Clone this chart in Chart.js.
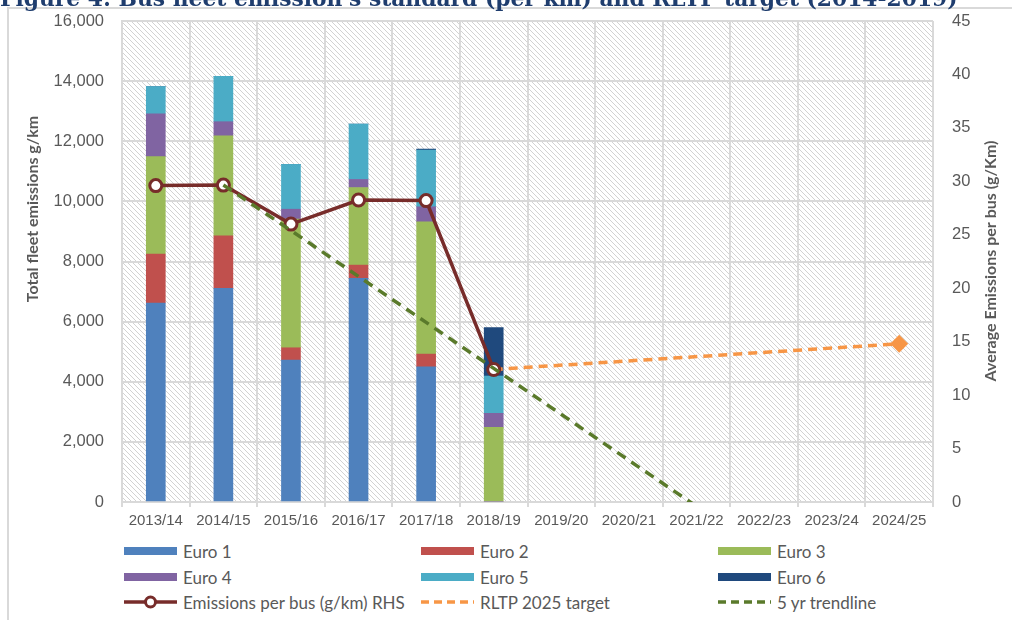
<!DOCTYPE html>
<html lang="en">
<head>
<meta charset="UTF-8">
<title>Bus fleet emissions</title>
<script src="https://cdn.jsdelivr.net/npm/chart.js"></script>
<style>
  body { margin: 0; background: #fff; font-family: Lato, "Liberation Sans", Arial, sans-serif; }
  #wrap { position: relative; width: 1012px; height: 620px; overflow: hidden; }
  #figTitle {
    position: absolute; left: 0; top: -14px; line-height: 22px;
    font: bold 21.8px "DejaVu Serif", serif; color: #1f3d6e; white-space: nowrap; z-index: 3;
  }
  #frame {
    position: absolute; left: 7px; top: 7px; width: 1100px; height: 700px;
    border-left: 2px solid #d9d9d9; border-top: 2px solid #d9d9d9; z-index: 2; pointer-events: none;
  }
  #chartBox { position: absolute; left: 0; top: 0; width: 1012px; height: 540px; }
  .leg { position: absolute; display: flex; align-items: center; font-size: 17px; color: #595959; white-space: nowrap; }
  .leg canvas { margin-right: 6px; }
</style>
</head>
<body>
<div id="wrap">
  <div id="figTitle">Figure 4: Bus fleet emission's standard (per km) and RLTP target (2014-2019)</div>
  <div id="frame"></div>
  <div id="chartBox"><canvas id="busChart" width="1012" height="540"></canvas></div>
  <div id="legend"></div>
</div>

<script>
const categories = ['2013/14', '2014/15', '2015/16', '2016/17', '2017/18', '2018/19',
                    '2019/20', '2020/21', '2021/22', '2022/23', '2023/24', '2024/25'];

// fleet emissions g/km by standard (left axis)
const euro1 = [6620, 7110, 4720, 7440, 4500, 0];
const euro2 = [1630, 1740, 410, 440, 420, 0];
const euro3 = [3240, 3330, 4280, 2580, 4400, 2480];
const euro4 = [1420, 470, 330, 270, 500, 470];
const euro5 = [910, 1510, 1490, 1840, 1890, 1240];
const euro6 = [0, 0, 0, 0, 30, 1610];

// average emissions per bus g/km (right axis)
const perBus = [29.6, 29.65, 26.0, 28.25, 28.2, 12.4];
const rltpTarget = [null, null, null, null, null, 12.4, null, null, null, null, null, 14.8];
const trendline = [null, 29.65, 25.4, 21.1, 16.8, 12.5, 8.2, 3.9, -0.4];

const grey = '#595959';
const gridCol = '#d9d9d9';

// diagonal hatch for plot area
const tile = document.createElement('canvas');
tile.width = 5; tile.height = 5;
const tctx = tile.getContext('2d');
tctx.strokeStyle = '#d2d2d2';
tctx.lineWidth = 1;
tctx.beginPath();
tctx.moveTo(-1, -1); tctx.lineTo(6, 6);
tctx.moveTo(-1, 4); tctx.lineTo(1, 6);
tctx.moveTo(4, -1); tctx.lineTo(6, 1);
tctx.stroke();

const hatchBg = {
  id: 'hatchBg',
  beforeDraw(chart) {
    const { ctx, chartArea: a } = chart;
    ctx.save();
    ctx.fillStyle = '#fff';
    ctx.fillRect(a.left, a.top, a.right - a.left, a.bottom - a.top);
    ctx.fillStyle = ctx.createPattern(tile, 'repeat');
    ctx.fillRect(a.left, a.top, a.right - a.left, a.bottom - a.top);
    ctx.restore();
  }
};

// both axis titles read bottom-to-top, left one sits above centre
function sideTitle(ctx, text, x, y) {
  ctx.save();
  ctx.translate(x, y);
  ctx.rotate(-Math.PI / 2);
  ctx.font = 'bold 16px Lato, Arial, sans-serif';
  ctx.fillStyle = grey;
  ctx.textAlign = 'center';
  ctx.textBaseline = 'middle';
  ctx.fillText(text, 0, 0);
  ctx.restore();
}
const axisTitles = {
  id: 'axisTitles',
  afterDraw(chart) {
    sideTitle(chart.ctx, 'Total fleet emissions g/km', 33, 209);
    sideTitle(chart.ctx, 'Average Emissions per bus (g/Km)', 991, 261);
  }
};

function bar(label, data, color) {
  return { type: 'bar', label, data, backgroundColor: color, borderWidth: 0,
           barThickness: 19, yAxisID: 'y', order: 5 };
}

// fixed axis boxes so the plot area lands where Excel put it
function fixVertical(width) {
  return s => { s.width = width; s.paddingTop = 0; s.paddingBottom = 0; };
}

const chart = new Chart(document.getElementById('busChart'), {
  data: {
    labels: categories,
    datasets: [
      bar('Euro 1', euro1, '#4f81bd'),
      bar('Euro 2', euro2, '#c0504d'),
      bar('Euro 3', euro3, '#9bbb59'),
      bar('Euro 4', euro4, '#8064a2'),
      bar('Euro 5', euro5, '#4bacc6'),
      bar('Euro 6', euro6, '#1f497d'),
      {
        type: 'line', label: 'Emissions per bus (g/km) RHS', data: perBus, yAxisID: 'y1',
        borderColor: '#772c2a', borderWidth: 3.5, pointRadius: 6, pointBorderWidth: 3,
        pointBackgroundColor: '#fff', pointBorderColor: '#772c2a', order: 2
      },
      {
        type: 'line', label: 'RLTP 2025 target', data: rltpTarget, yAxisID: 'y1', spanGaps: true,
        borderColor: '#f79646', borderWidth: 3.5, borderDash: [9, 6],
        pointStyle: 'rectRot', pointRadius: rltpTarget.map((v, i) => i === 11 ? 9 : 0),
        pointBackgroundColor: '#f79646', pointBorderWidth: 0, order: 3
      },
      {
        type: 'line', label: '5 yr trendline', data: trendline, yAxisID: 'y1',
        borderColor: '#5a7a2b', borderWidth: 3.5, borderDash: [10, 7], pointRadius: 0, order: 1
      }
    ]
  },
  options: {
    responsive: false,
    animation: false,
    layout: { padding: { top: 21, left: 0, right: 0, bottom: 0 } },
    plugins: { legend: { display: false }, tooltip: { enabled: false } },
    scales: {
      x: {
        stacked: true,
        afterFit: s => { s.height = 38; },
        grid: { color: gridCol, lineWidth: 2, tickLength: 5, offset: true },
        border: { color: gridCol, width: 2 },
        ticks: { color: grey, font: { size: 15 }, padding: 5, maxRotation: 0, autoSkip: false }
      },
      y: {
        stacked: true, min: 0, max: 16000,
        afterFit: fixVertical(122),
        grid: { color: gridCol, lineWidth: 2, drawTicks: false },
        border: { color: gridCol, width: 2 },
        ticks: { color: grey, font: { size: 16.5 }, stepSize: 2000, padding: 18,
                 callback: v => v.toLocaleString('en-US') }
      },
      y1: {
        position: 'right', min: 0, max: 45,
        afterFit: fixVertical(79),
        grid: { display: false, drawTicks: false },
        border: { display: false },
        ticks: { color: grey, font: { size: 16.5 }, stepSize: 5, padding: 19 }
      }
    }
  },
  plugins: [hatchBg, axisTitles]
});

// legend: 3 columns x 3 rows like the Excel original
const legend = document.getElementById('legend');
const colX = [124, 421, 718];
const rowY = [551, 577, 602];
chart.data.datasets.forEach((ds, i) => {
  const item = document.createElement('div');
  item.className = 'leg';
  item.style.left = colX[i % 3] + 'px';
  item.style.top = (rowY[Math.floor(i / 3)] - 11) + 'px';
  item.style.height = '22px';
  const sw = document.createElement('canvas');
  sw.width = 53; sw.height = 16;
  const c = sw.getContext('2d');
  if (ds.type === 'bar') {
    c.fillStyle = ds.backgroundColor;
    c.fillRect(0, 4, 53, 8);
  } else {
    c.strokeStyle = ds.borderColor;
    c.lineWidth = 3.5;
    c.setLineDash(ds.borderDash ? [8, 5] : []);
    c.beginPath(); c.moveTo(0, 8); c.lineTo(53, 8); c.stroke();
    if (ds.pointBackgroundColor === '#fff') {
      c.setLineDash([]);
      c.lineWidth = 3;
      c.fillStyle = '#fff';
      c.beginPath(); c.arc(26.5, 8, 5, 0, Math.PI * 2); c.fill(); c.stroke();
    }
  }
  item.appendChild(sw);
  const t = document.createElement('span');
  t.textContent = ds.label;
  item.appendChild(t);
  legend.appendChild(item);
});
</script>
</body>
</html>
